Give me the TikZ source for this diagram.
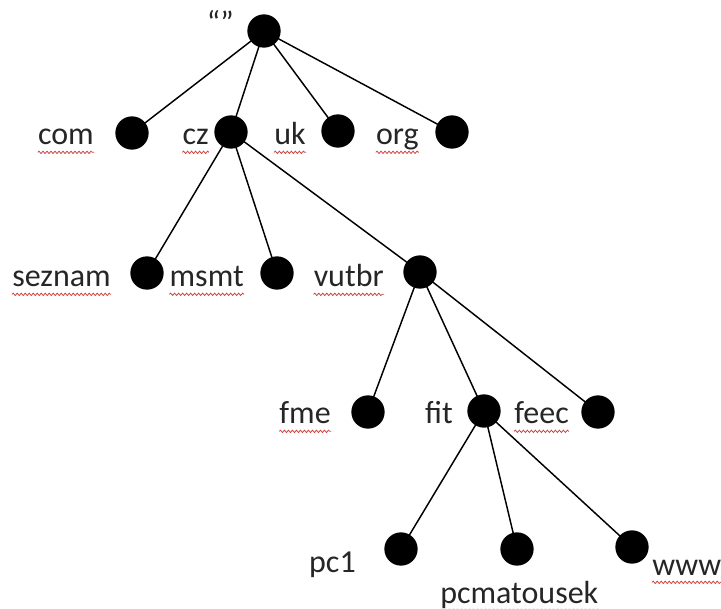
\documentclass[tikz,border=0pt]{standalone}
\usepackage{fontspec}
\setmainfont{Carlito}
\usetikzlibrary{decorations.pathmorphing}
\definecolor{ink}{RGB}{38,38,38}
\definecolor{spell}{RGB}{205,70,70}
\tikzset{
    line cap=round,
    dot/.style={
        circle,
        fill=black,
        inner sep=0pt,
        minimum size=25pt
    },
    dname/.style={
        anchor=base east,
        inner sep=0pt,
        text=ink,
        font=\fontsize{24}{28}\selectfont
    },
    branch/.style={
        draw=black,
        line width=1.1pt
    },
    squiggle/.style={
        draw=spell,
        line width=0.6pt,
        decorate,
        decoration={snake, segment length=3pt, amplitude=0.9pt}
    }
}

\begin{document}
\begin{tikzpicture}[x=0.75pt, y=-0.75pt]
\useasboundingbox (0,0) rectangle (721,609);

% Dots of the name tree
\node[dot] (root) at (264,31) {};

\node[dot] (com) at (132,133) {};
\node[dot] (cz)  at (231,132) {};
\node[dot] (uk)  at (338,131) {};
\node[dot] (org) at (452,132) {};

\node[dot] (seznam) at (147,273) {};
\node[dot] (msmt)   at (277,273) {};
\node[dot] (vutbr)  at (420,272) {};

\node[dot] (fme)  at (368,412) {};
\node[dot] (fit)  at (484,411) {};
\node[dot] (feec) at (598,412) {};

\node[dot] (pc1)        at (401,549) {};
\node[dot] (pcmatousek) at (517,549) {};
\node[dot] (www)        at (632,547) {};

% Branches
\foreach \p/\c in {root/com, root/cz, root/uk, root/org,
                   cz/seznam, cz/msmt, cz/vutbr,
                   vutbr/fme, vutbr/fit, vutbr/feec,
                   fit/pc1, fit/pcmatousek, fit/www}
    \draw[branch] (\p.center) -- (\c.center);

% Labels
\node[dname] (root-lbl) at (234,34) {“”};

\node[dname] (com-lbl) at (94,145)  {com};
\node[dname] (cz-lbl)  at (209,145) {cz};
\node[dname] (uk-lbl)  at (306,145) {uk};
\node[dname] (org-lbl) at (419,145) {org};

\node[dname] (seznam-lbl) at (111,287) {seznam};
\node[dname] (msmt-lbl)   at (244,287) {msmt};
\node[dname] (vutbr-lbl)  at (384,287) {vutbr};

\node[dname] (fme-lbl)  at (331,424) {fme};
\node[dname] (fit-lbl)  at (453,424) {fit};
\node[dname] (feec-lbl) at (569,424) {feec};

\node[dname] (pc1-lbl) at (356,572) {pc1};
\node[dname, anchor=base west] (www-lbl) at (652,575) {www};
\node[dname, anchor=base west] (pcmatousek-lbl) at (440,603) {pcmatousek};

% Spell-check underlines
\foreach \n in {com,cz,uk,org,seznam,msmt,vutbr,fme,feec,www,pcmatousek}
    \draw[squiggle] ([yshift=-5.5pt]\n-lbl.base west) -- ([yshift=-5.5pt]\n-lbl.base east);
\end{tikzpicture}
\end{document}
